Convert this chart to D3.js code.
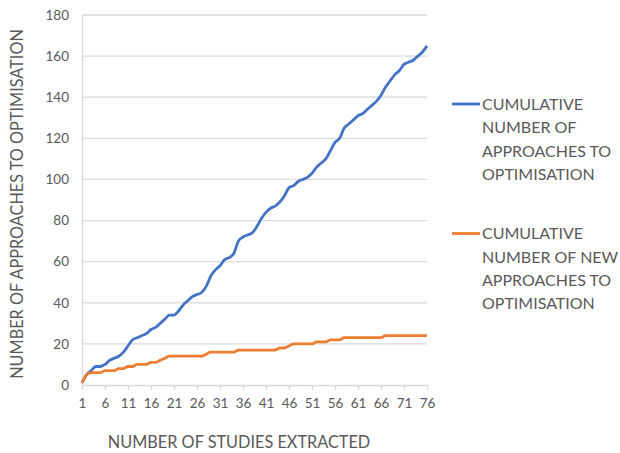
<!DOCTYPE html>
<html>
<head>
<meta charset="utf-8">
<script src="https://cdn.jsdelivr.net/npm/d3@7"></script>
<style>
  body { margin: 0; background: #fff; }
  text { font-family: Lato, 'Open Sans', sans-serif; fill: #595959; }
</style>
</head>
<body>
<div class="canvas"></div>
<script>
// data
const studies = d3.range(1, 77);
const cumulativeApproaches = [
  1, 5, 7, 9, 9, 10, 12, 13, 14, 16,
  19, 22, 23, 24, 25, 27, 28, 30, 32, 34,
  34, 36, 39, 41, 43, 44, 45, 48, 53, 56,
  58, 61, 62, 64, 70, 72, 73, 74, 77, 81,
  84, 86, 87, 89, 92, 96, 97, 99, 100, 101,
  103, 106, 108, 110, 114, 118, 120, 125, 127, 129,
  131, 132, 134, 136, 138, 141, 145, 148, 151, 153,
  156, 157, 158, 160, 162, 165
];
const cumulativeNewApproaches = [
  1, 5, 6, 6, 6, 7, 7, 7, 8, 8,
  9, 9, 10, 10, 10, 11, 11, 12, 13, 14,
  14, 14, 14, 14, 14, 14, 14, 15, 16, 16,
  16, 16, 16, 16, 17, 17, 17, 17, 17, 17,
  17, 17, 17, 18, 18, 19, 20, 20, 20, 20,
  20, 21, 21, 21, 22, 22, 22, 23, 23, 23,
  23, 23, 23, 23, 23, 23, 24, 24, 24, 24,
  24, 24, 24, 24, 24, 24
];
const xTicks = [1, 6, 11, 16, 21, 26, 31, 36, 41, 46, 51, 56, 61, 66, 71, 76];
const yTicks = [0, 20, 40, 60, 80, 100, 120, 140, 160, 180];
const seriesNames = [
  ['CUMULATIVE', 'NUMBER OF', 'APPROACHES TO', 'OPTIMISATION'],
  ['CUMULATIVE', 'NUMBER OF NEW', 'APPROACHES TO', 'OPTIMISATION']
];
const colours = ['#4472c4', '#ed7d31'];

const margins = { top: 15, right: 193, bottom: 68, left: 82 };
const canvasWidth = 620;
const canvasHeight = 453;
const graphWidth = canvasWidth - margins.right - margins.left;
const graphHeight = canvasHeight - margins.top - margins.bottom;

const svg = d3
  .select('.canvas')
  .append('svg')
  .attr('width', canvasWidth)
  .attr('height', canvasHeight);

const graph = svg
  .append('g')
  .attr('transform', `translate(${margins.left}, ${margins.top})`);

// Scales
const x = d3.scaleLinear().domain([1, 76]).range([0, graphWidth]);
const y = d3.scaleLinear().domain([0, 180]).range([graphHeight, 0]);

// gridlines
graph
  .append('g')
  .selectAll('line')
  .data(yTicks.slice(1))
  .join('line')
  .attr('x1', 0)
  .attr('x2', graphWidth)
  .attr('y1', d => y(d))
  .attr('y2', d => y(d))
  .attr('stroke', '#d9d9d9')
  .attr('stroke-width', 1.3);

// axes
const xAxisGroup = graph
  .append('g')
  .attr('transform', `translate(0, ${graphHeight})`)
  .call(d3.axisBottom(x).tickValues(xTicks).tickSize(5).tickPadding(8).tickSizeOuter(0));
const yAxisGroup = graph
  .append('g')
  .call(d3.axisLeft(y).tickValues(yTicks).tickSize(0).tickPadding(13));

[xAxisGroup, yAxisGroup].forEach(g => {
  g.select('.domain').attr('stroke', '#d9d9d9').attr('stroke-width', 1.3);
  g.selectAll('.tick line').attr('stroke', '#d9d9d9').attr('stroke-width', 1.3);
  g.selectAll('text').style('font-size', '13.5px').attr('fill', '#595959');
});
yAxisGroup.select('.domain').attr('d', `M0.5,0V${graphHeight}`);

// lines
const line = d3
  .line()
  .x((d, i) => x(studies[i]))
  .y(d => y(d))
  .curve(d3.curveMonotoneX);

[cumulativeApproaches, cumulativeNewApproaches].forEach((series, i) => {
  graph
    .append('path')
    .datum(series)
    .attr('fill', 'none')
    .attr('stroke', colours[i])
    .attr('stroke-width', 2.8)
    .attr('stroke-linejoin', 'round')
    .attr('d', line);
});

// axis titles
svg
  .append('text')
  .attr('x', 239)
  .attr('y', 448)
  .attr('text-anchor', 'middle')
  .style('font-size', '16.3px')
  .text('NUMBER OF STUDIES EXTRACTED');

svg
  .append('text')
  .attr('transform', `translate(23, 204) rotate(-90)`)
  .attr('text-anchor', 'middle')
  .style('font-size', '16.3px')
  .text('NUMBER OF APPROACHES TO OPTIMISATION');

// legend
const legend = svg.append('g').attr('transform', 'translate(452, 104)');
seriesNames.forEach((lines, i) => {
  const item = legend.append('g').attr('transform', `translate(0, ${i * 129.5})`);
  item
    .append('line')
    .attr('x1', 0)
    .attr('x2', 28)
    .attr('stroke', colours[i])
    .attr('stroke-width', 2.8);
  item
    .selectAll('text')
    .data(lines)
    .join('text')
    .attr('x', 30)
    .attr('y', (d, j) => j * 23.4)
    .attr('dy', '0.36em')
    .style('font-size', '16px')
    .text(d => d);
});
</script>
</body>
</html>
